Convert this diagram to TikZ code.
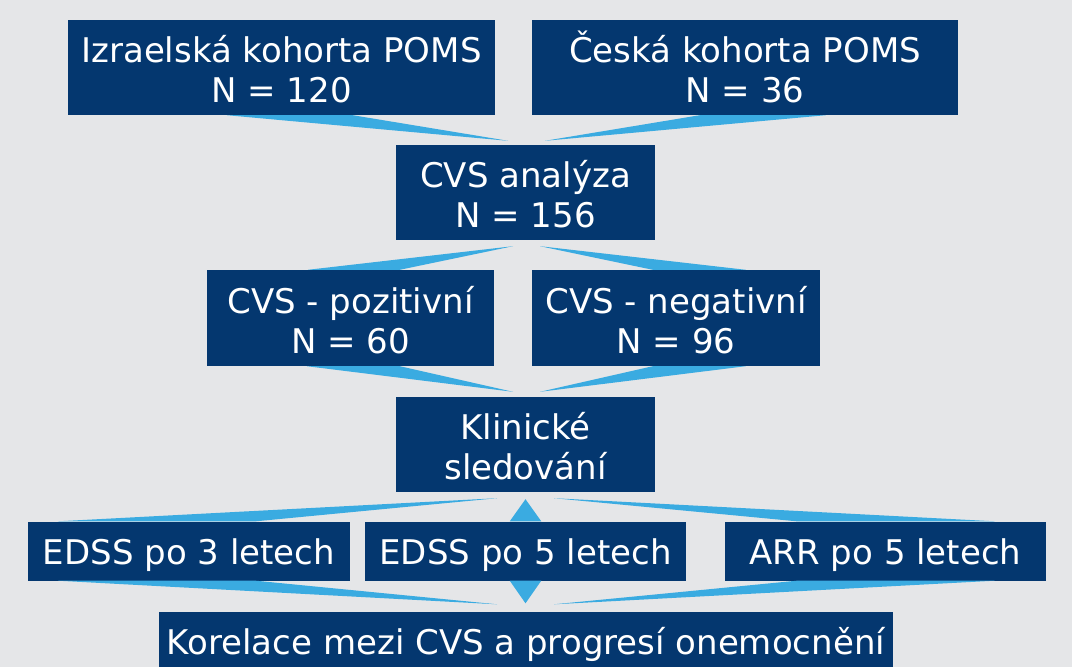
\documentclass[tikz,border=0pt]{standalone}
\usepackage{fontspec}
\setmainfont{DejaVu Sans}
\usetikzlibrary{calc}
\definecolor{bgc}{RGB}{229,230,232}
\definecolor{boxc}{RGB}{4,55,111}
\definecolor{wedgec}{RGB}{58,171,225}
\tikzset{
  box/.style={fill=boxc, text=white, inner sep=0pt, align=center,
    font=\fontsize{34}{40}\selectfont},
  twoline/.style={box, text height=70pt, text depth=0pt},
  oneline/.style={box, text height=26pt, text depth=0pt},
  wedgefill/.style={fill=wedgec, draw=none}
}
\newcommand{\wedgetri}[3]{\fill[wedgefill] #1 -- #2 -- #3 -- cycle;}
\begin{document}
\begin{tikzpicture}[x=1pt,y=-1pt]
\useasboundingbox (0,0) rectangle (1072,667);
\fill[bgc] (0,0) rectangle (1072,667);
% boxes
\node[twoline, minimum width=427pt, minimum height=95pt] (A) at (281.5,67.5) {Izraelská kohorta POMS\\N = 120};
\node[twoline, minimum width=426pt, minimum height=95pt] (B) at (745,67.5) {Česká kohorta POMS\\N = 36};
\node[twoline, minimum width=259pt, minimum height=95pt] (C) at (525.5,192.5) {CVS analýza\\N = 156};
\node[twoline, minimum width=287pt, minimum height=96pt] (D) at (350.5,318) {CVS - pozitivní\\N = 60};
\node[twoline, minimum width=288pt, minimum height=96pt] (E) at (676,318) {CVS - negativní\\N = 96};
\node[twoline, minimum width=259pt, minimum height=95pt] (F) at (525.5,444.5) {Klinické\\sledování};
\node[oneline, minimum width=322pt, minimum height=59pt] (G) at (189,551) {EDSS po 3 letech};
\node[oneline, minimum width=321pt, minimum height=59pt] (H) at (525.5,551) {EDSS po 5 letech};
\node[oneline, minimum width=321pt, minimum height=59pt] (I) at (885.5,551) {ARR po 5 letech};
\node[oneline, minimum width=734pt, minimum height=59pt] (J) at (526,641) {Korelace mezi CVS a progresí onemocnění};
% wedges
\wedgetri{($(A.south west)+(159,0)$)}{($(A.south west)+(285,0)$)}{($(C.north)+(-17.5,-4)$)}
\wedgetri{($(B.south west)+(168,0)$)}{($(B.south west)+(294,0)$)}{($(C.north)+(19.5,-4)$)}
\wedgetri{($(C.south)+(-12.5,6)$)}{($(D.north west)+(101,0)$)}{($(D.north west)+(193,0)$)}
\wedgetri{($(C.south)+(14.5,6)$)}{($(E.north west)+(121,0)$)}{($(E.north west)+(214,0)$)}
\wedgetri{($(D.south west)+(100,0)$)}{($(D.south west)+(193,0)$)}{($(F.north)+(-12.5,-5)$)}
\wedgetri{($(E.south west)+(121,0)$)}{($(E.south west)+(214,0)$)}{($(F.north)+(14.5,-5)$)}
\wedgetri{($(F.south)+(-28.5,6)$)}{($(G.north west)+(30,0)$)}{($(G.north west)+(228,0)$)}
\wedgetri{($(F.south)+(0,7)$)}{($(H.north)+(-15.75,0)$)}{($(H.north)+(15.75,0)$)}
\wedgetri{($(F.south)+(28.5,6)$)}{($(I.north west)+(72,0)$)}{($(I.north west)+(270,0)$)}
\wedgetri{($(G.south west)+(30,0)$)}{($(G.south west)+(228,0)$)}{($(J.north)+(-29,-7)$)}
\wedgetri{($(H.south)+(-15.75,0)$)}{($(H.south)+(15.75,0)$)}{($(J.north)+(-0.5,-8)$)}
\wedgetri{($(I.south west)+(72,0)$)}{($(I.south west)+(270,0)$)}{($(J.north)+(28,-7)$)}
\end{tikzpicture}
\end{document}
